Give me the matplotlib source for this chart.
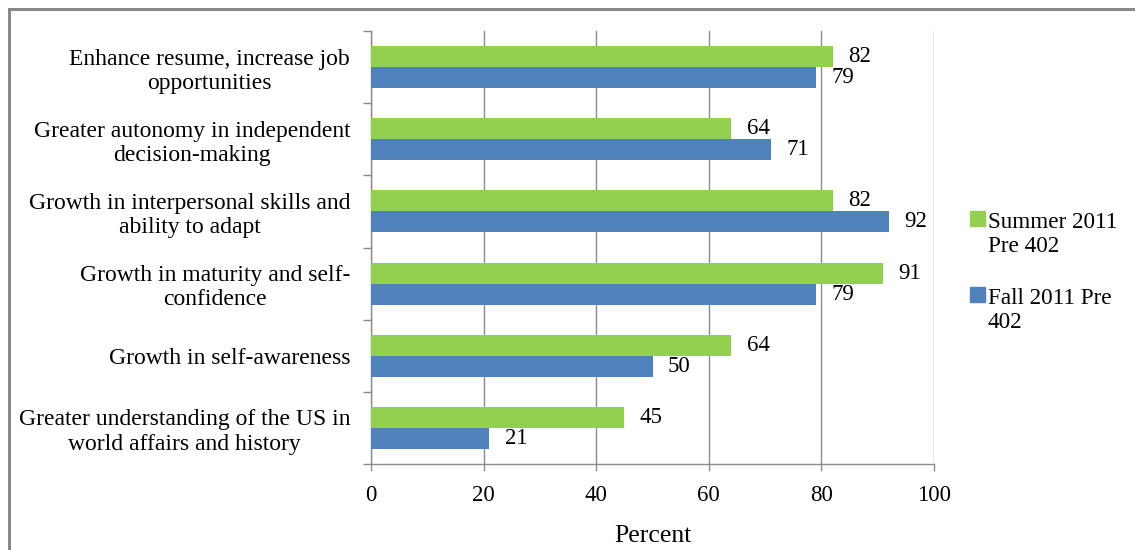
import numpy as np
import matplotlib
matplotlib.use("Agg")
import matplotlib.pyplot as plt
from matplotlib.patches import Rectangle

# data (top to bottom as in the chart)
categories = [
    "Enhance resume, increase job\nopportunities",
    "Greater autonomy in independent\ndecision-making",
    "Growth in interpersonal skills and\nability to adapt",
    "Growth in maturity and self-\nconfidence",
    "Growth in self-awareness",
    "Greater understanding of the US in\nworld affairs and history",
]
summer = [82, 64, 82, 91, 64, 45]
fall = [79, 71, 92, 79, 50, 21]
series_names = ["Summer 2011\nPre 402", "Fall 2011 Pre\n402"]
x_ticks = [0, 20, 40, 60, 80, 100]

GREEN = "#92D050"
BLUE = "#4F81BD"
GRAY = "#8C8C8C"
W, H = 1135, 550

plt.rcParams["font.family"] = ["Liberation Serif", "DejaVu Serif"]

fig = plt.figure(figsize=(W / 100, H / 100), dpi=100)
ax = fig.add_axes([371 / W, 1 - 464 / H, (934 - 371) / W, (464 - 31) / H])

y = np.arange(len(categories))
h = 0.29
b1 = ax.barh(y - h / 2, summer, height=h, color=GREEN, zorder=3)
b2 = ax.barh(y + h / 2, fall, height=h, color=BLUE, zorder=3)

for bars in (b1, b2):
    for rect in bars:
        v = rect.get_width()
        ax.annotate(f"{v:g}", (v, rect.get_y() + rect.get_height() / 2),
                    xytext=(11, 0), textcoords="offset points",
                    ha="left", va="center", fontsize=16.5, zorder=4)

ax.set_xlim(0, 100)
ax.set_ylim(len(categories) - 0.5, -0.5)
ax.set_xticks(x_ticks)
ax.set_yticks(y)
ax.set_yticklabels(categories, ha="right", multialignment="center")
ax.set_yticks(np.arange(len(categories) + 1) - 0.5, minor=True)

ax.tick_params(axis="y", which="major", length=0, labelsize=17, pad=15)
ax.tick_params(axis="y", which="minor", length=6, width=1, color=GRAY)
ax.tick_params(axis="x", length=5, width=1, color=GRAY, labelsize=16.5, pad=10)

ax.xaxis.grid(True, color=GRAY, linewidth=1, zorder=0)
for s in ("top", "right"):
    ax.spines[s].set_visible(False)
for s in ("left", "bottom"):
    ax.spines[s].set_color(GRAY)
    ax.spines[s].set_linewidth(1)

ax.set_xlabel("Percent", fontsize=18.5, labelpad=14)

# legend: square key aligned with the first line of each label
legend_rows = [(GREEN, 226), (BLUE, 302)]
for name, (col, base) in zip(series_names, legend_rows):
    fig.patches.append(Rectangle((970 / W, 1 - base / H), 15 / W, 15 / H,
                                 transform=fig.transFigure, color=col))
    # baseline of the last line sits one line below the key
    fig.text(988 / W, 1 - (base + 26) / H, name, ha="left", va="baseline",
             fontsize=16.7, linespacing=1.2)

# outer frame of the chart area
fig.patches.append(Rectangle((9 / W, -0.1), 1.2, 1 - 9 / H + 0.1,
                             transform=fig.transFigure, fill=False,
                             edgecolor="#898989", linewidth=2.2))

fig.savefig("out.png", dpi=100)
